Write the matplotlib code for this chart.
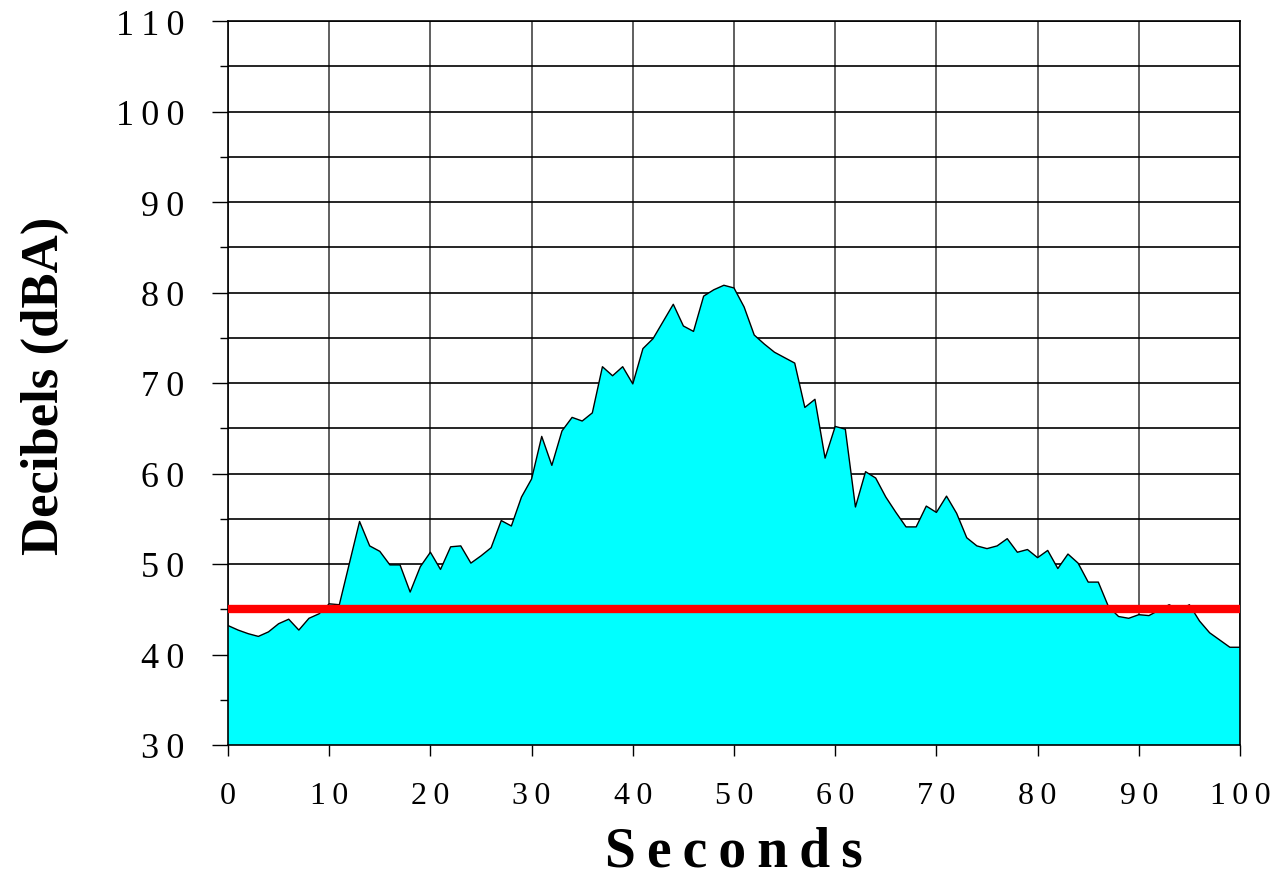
import numpy as np
import matplotlib
matplotlib.use("Agg")
import matplotlib.pyplot as plt
from matplotlib.ticker import FuncFormatter

plt.rcParams["font.family"] = ["Liberation Serif", "DejaVu Serif"]

# ── data (1 reading per second) ──────────────────────────────────────────────
seconds = np.arange(0, 101)
decibels = [
    43.2, 42.7, 42.3, 42.0, 42.5, 43.4, 43.9, 42.7, 44.0, 44.5,   # 0-9
    45.6, 45.5, 50.1, 54.7, 52.0, 51.4, 49.9, 49.9, 46.9, 49.7,   # 10-19
    51.3, 49.4, 51.9, 52.0, 50.1, 50.9, 51.8, 54.8, 54.2, 57.4,   # 20-29
    59.4, 64.1, 60.9, 64.7, 66.2, 65.8, 66.7, 71.8, 70.8, 71.8,   # 30-39
    69.9, 73.8, 74.9, 76.8, 78.7, 76.3, 75.7, 79.6, 80.3, 80.8,   # 40-49
    80.5, 78.4, 75.3, 74.3, 73.4, 72.8, 72.2, 67.3, 68.2, 61.7,   # 50-59
    65.2, 64.9, 56.3, 60.2, 59.5, 57.4, 55.7, 54.1, 54.1, 56.4,   # 60-69
    55.7, 57.5, 55.6, 52.9, 52.0, 51.7, 52.0, 52.8, 51.3, 51.6,   # 70-79
    50.7, 51.5, 49.5, 51.1, 50.1, 48.0, 48.0, 45.3, 44.2, 44.0,   # 80-89
    44.4, 44.3, 44.9, 45.5, 44.9, 45.5, 43.7, 42.4, 41.6, 40.8,   # 90-99
    40.8,                                                         # 100
]
LIMIT_DB = 45

x_ticks = list(range(0, 101, 10))
y_ticks = list(range(30, 111, 10))
y_minor = list(range(35, 110, 10))


def spaced(v, _pos=None):
    """Tick label with the wide letter spacing of the original."""
    return "\u2009".join(str(int(round(v))))


# ── plot ─────────────────────────────────────────────────────────────────────
fig = plt.figure(figsize=(12.86, 8.79), dpi=100)
ax = fig.add_axes([228 / 1286, 133 / 879, 1012 / 1286, 724 / 879])

ax.fill_between(seconds, 30, decibels, facecolor="#00FFFF", edgecolor="none", zorder=2)
ax.plot(seconds, decibels, color="black", linewidth=1.0, zorder=3)
ax.axhline(LIMIT_DB, color="#FF0000", linewidth=6, zorder=4)

ax.set_xlim(0, 100)
ax.set_ylim(30, 110)
ax.set_xticks(x_ticks)
ax.set_yticks(y_ticks)
ax.set_yticks(y_minor, minor=True)
ax.xaxis.set_major_formatter(FuncFormatter(spaced))
ax.yaxis.set_major_formatter(FuncFormatter(spaced))

ax.set_axisbelow(True)
ax.grid(True, axis="y", which="both", color="black", linewidth=1.2)
ax.grid(True, axis="x", which="major", color="#444444", linewidth=1.2)

ax.tick_params(axis="y", which="major", length=11.5, width=1, pad=20,
               direction="out", labelsize=26)
ax.tick_params(axis="y", which="minor", length=5.8, width=1, direction="out")
ax.tick_params(axis="x", which="major", length=8, width=1, pad=18,
               direction="out", labelsize=23)

for sp in ax.spines.values():
    sp.set_color("black")
    sp.set_linewidth(1.2)

fig.text(45 / 1286, 1 - 386 / 879, "Decibels (dBA)", rotation=90,
         ha="center", va="center", fontsize=38, fontweight="bold")
fig.text(734 / 1286, 1 - 853 / 879, "S\u2009e\u2009c\u2009o\u2009n\u2009d\u2009s",
         ha="center", va="center", fontsize=40, fontweight="bold")

fig.savefig("out.png", dpi=100)
